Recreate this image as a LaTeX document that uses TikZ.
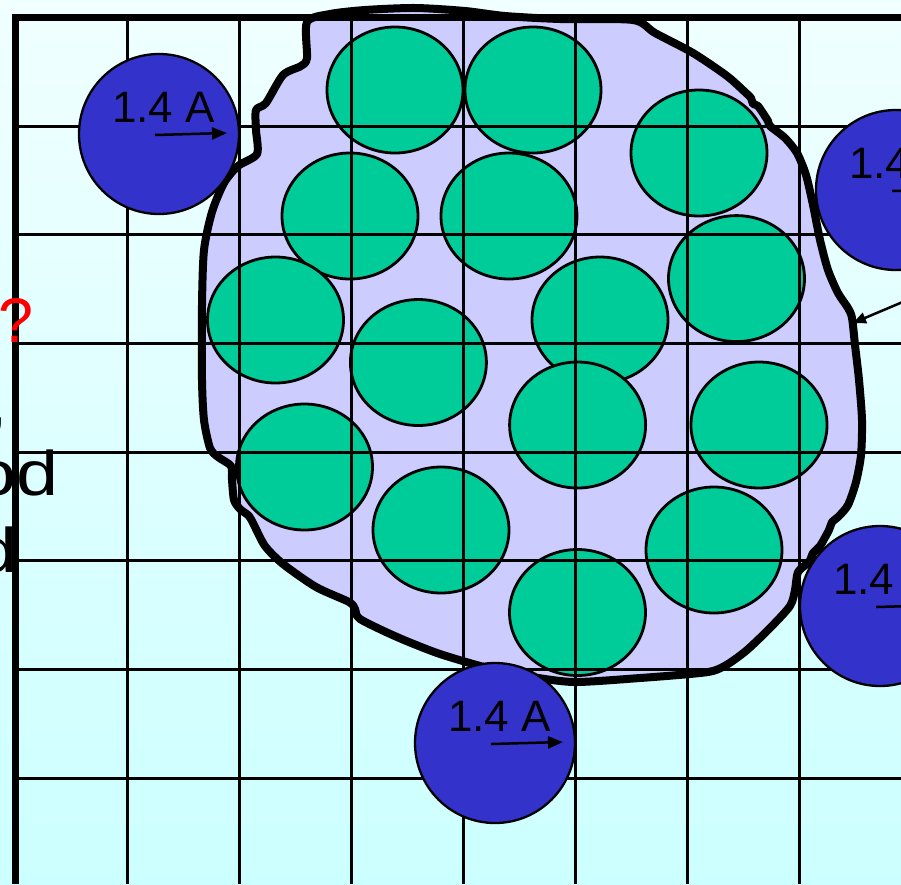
\documentclass[tikz,border=0pt]{standalone}
\usepackage{fontspec}
\setmainfont{Liberation Sans}
\usetikzlibrary{arrows.meta,calc}
\definecolor{bgtop}{RGB}{240,255,255}
\definecolor{bgbot}{RGB}{204,255,255}
\definecolor{blobc}{RGB}{204,204,255}
\definecolor{greenc}{RGB}{0,204,153}
\definecolor{bluec}{RGB}{51,51,204}
\begin{document}
\begin{tikzpicture}[x=1pt,y=-1pt,
  grn/.style={fill=greenc,draw=black,line width=2.8pt},
  bluecirc/.style={circle,fill=bluec,draw=black,line width=2.3pt,minimum size=160pt,inner sep=0pt},
  lbl/.style={anchor=base west,inner sep=0pt,font=\fontsize{44}{50}\selectfont},
  curarrow/.style={line width=2.5pt,-{Triangle[length=15pt,width=12pt]}},
  gridline/.style={line width=3pt},
  border/.style={line width=7pt,line join=miter},
  bigtxt/.style={anchor=base west,inner sep=0pt,font=\fontsize{63}{75}\selectfont}]
\useasboundingbox (0,0) rectangle (901,884);
\clip (0,0) rectangle (901,884);
\shade[top color=bgtop,bottom color=bgbot] (0,0) rectangle (901,884);
% blob
\filldraw[fill=blobc,draw=black,line width=8pt,line join=round]
  plot[smooth cycle,tension=0.45] coordinates {
  (307,22) (330,14) (365,10) (415,8) (465,11) (505,16) (560,19) (633,20)
  (655,33) (693,53) (727,76) (746,93) (751,98) (753,104) (758,106) (768,121)
  (770,126) (785,138) (797,153) (806,175) (813,205) (820,240) (828,270)
  (838,293) (848,308) (852,318) (855,345) (859,380) (862,420) (861,455)
  (856,482) (848,505) (838,517) (832,522) (829,530) (820,546) (813,553)
  (809,562) (798,572) (795,590) (790,606) (770,628) (747,650) (728,664)
  (713,671) (690,674) (640,678) (575,682) (532,677) (495,670) (440,654)
  (397,637) (360,619) (355,609) (349,602) (316,587) (283,564) (265,546)
  (254,525) (249,516) (240,509) (234,500) (232,480) (231,466) (218,457)
  (210,448) (204,420) (202,380) (202,305) (204,250) (212,212) (224,183)
  (238,166) (257,154) (256,130) (256,110) (266,103) (283,75) (301,66) (307,58)};
% green cells
\foreach \cx/\cy in {395/90, 533/90, 699/153, 350/216, 509/216, 736.5/278.6,
  275.5/320, 600/320, 418.4/362.5, 577.6/425, 759/425, 304.5/467, 441/530,
  714/550, 577.5/612.5}
  \path[grn] (\cx,\cy) ellipse [x radius=68pt, y radius=63pt];
% grid
\foreach \x in {127.5,239.5,351.5,463.5,575.5,687.5,799.5}
  \draw[gridline] (\x,17) -- (\x,884);
\foreach \y in {126,234.5,343,452,560.5,669,778}
  \draw[gridline] (15,\y) -- (901,\y);
\draw[border] (15,884) -- (15,17) -- (901,17);
% blue particles
\foreach \n/\cx/\cy in {1/159/134, 2/495/743, 3/896/190, 4/880/606}{
  \node[bluecirc] (b\n) at (\cx,\cy) {};
  \node[lbl] (t\n) at ($(b\n)+(-47,-12)$) {1.4 A};
  \coordinate (s\n) at ($(b\n)+(-4,1)$);
  \coordinate (e\n) at ($(b\n)+(68,-1)$);
  \draw[curarrow] (s\n) -- (e\n);
}
% pointer arrow at right
\coordinate (ps) at (905,301);
\coordinate (pe) at (853,323);
\draw[line width=2.5pt,-{Triangle[length=13pt,width=11pt]}] (ps) -- (pe);
% left text fragments
\node[bigtxt,text=red] (q) at (-1.5,342) {?};
\node[bigtxt] (c) at (-11,424) {,};
\node[bigtxt,xscale=1.2] (od) at (-26,495) {od};
\node[bigtxt,xscale=1.2] (d) at (-25,572) {d};
\end{tikzpicture}
\end{document}
